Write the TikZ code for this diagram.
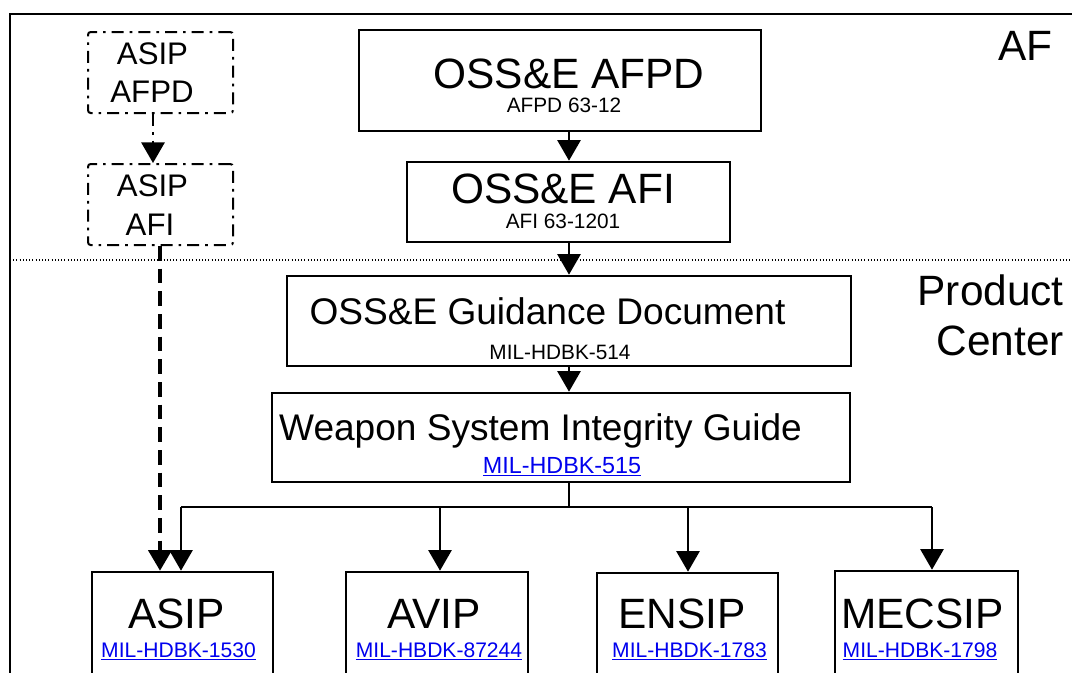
\documentclass[tikz,border=0pt]{standalone}
\usepackage{fontspec}
\setmainfont{Liberation Sans}
\usetikzlibrary{arrows.meta,fit}
\definecolor{linkblue}{RGB}{0,0,238}
\newcommand{\ftitle}{\fontsize{31.8}{38}\selectfont}
\newcommand{\fguide}{\fontsize{27.8}{33}\selectfont}
\newcommand{\fasip}{\fontsize{23.4}{28}\selectfont}
\newcommand{\fref}{\fontsize{15.6}{19}\selectfont}
\newcommand{\fweb}[2]{{\fontsize{#1}{19}\selectfont\color{linkblue}\underline{#2}}}
\tikzset{
  docbox/.style={draw, line width=2pt, inner sep=0pt},
  asipbox/.style={draw, line width=1.5pt, inner sep=0pt, rounded corners=2pt,
    dash pattern=on 9pt off 4.5pt on 2pt off 4.5pt},
  txt/.style={anchor=base, inner sep=0pt},
  tip/.style={-{Triangle[length=15.5pt,width=17.5pt]}},
  feed/.style={line width=1.5pt, tip},
  feeddash/.style={line width=2.6pt, dash pattern=on 11pt off 6pt, tip},
}
\begin{document}
\begin{tikzpicture}[x=0.75pt,y=-0.75pt]
\useasboundingbox (0,0) rectangle (1072,672);
\clip (0,0) rectangle (1072,672);
\draw[line width=2pt] (10,14) rectangle (1090,690);
\draw[line width=0.8pt, dash pattern=on 0.8pt off 1.6pt] (10,260) -- (1072,260);
% levels
\node[txt, anchor=base east] (af) at (1053,60) {\ftitle AF};
\node[txt, anchor=base east] (pc1) at (1064,305) {\ftitle Product};
\node[txt, anchor=base east] (pc2) at (1064,355) {\ftitle Center};
% columns of the connectors
\coordinate (trunk) at (569,0);
\coordinate (al) at (153,0);
\coordinate (dl) at (160,0);
% ASIP side
\node[asipbox, fit={(88,32) (233,113)}] (asipafpd) {};
\node[txt] (asipafpd1) at (152.5,64) {\fasip ASIP};
\node[txt] (asipafpd2) at (152,102) {\fasip AFPD};
\node[asipbox, fit={(88,164) (233,245)}] (asipafi) {};
\node[txt] (asipafi1) at (152.5,196) {\fasip ASIP};
\node[txt] (asipafi2) at (150,235) {\fasip AFI};
% OSS&E chain
\node[docbox, fit={(359,30) (761,131)}] (afpd) {};
\node[txt] (afpd1) at (569,88) {\ftitle OSS\&E AFPD};
\node[txt] (afpd2) at (564,112) {\fref AFPD 63-12};
\node[docbox, fit={(407,162) (730,242)}] (afi) {};
\node[txt] (afi1) at (563,203) {\ftitle OSS\&E AFI};
\node[txt] (afi2) at (563,228) {\fref AFI 63-1201};
\node[docbox, fit={(287,276) (851,366)}] (guide) {};
\node[txt] (guide1) at (547.5,324) {\fguide OSS\&E Guidance Document};
\node[txt] (guide2) at (560,359) {\fref MIL-HDBK-514};
\node[docbox, fit={(272,393) (850,482)}] (wsig) {};
\node[txt] (wsig1) at (540.5,440) {\fguide Weapon System Integrity Guide};
\node[txt] (wsig2) at (562,473) {\fweb{17.5}{MIL-HDBK-515}};
% programs
\node[docbox, fit={(92,572) (273,700)}] (asip) {};
\node[txt] (asip1) at (176.5,628) {\ftitle ASIP};
\node[txt] (asip2) at (178.5,657) {\fweb{15.8}{MIL-HDBK-1530}};
\node[docbox, fit={(346,572) (528,700)}] (avip) {};
\node[txt] (avip1) at (434,628) {\ftitle AVIP};
\node[txt] (avip2) at (439,657) {\fweb{15.8}{MIL-HBDK-87244}};
\node[docbox, fit={(597,573) (778,700)}] (ensip) {};
\node[txt] (ensip1) at (682,628) {\ftitle ENSIP};
\node[txt] (ensip2) at (689.5,657) {\fweb{15.8}{MIL-HBDK-1783}};
\node[docbox, fit={(835,571) (1018,700)}] (mecsip) {};
\node[txt] (mecsip1) at (922.5,628) {\ftitle MECSIP};
\node[txt] (mecsip2) at (920,657) {\fweb{15.8}{MIL-HDBK-1798}};
% connectors
\draw[feed] (afpd.south -| trunk) -- (afi.north -| trunk);
\draw[feed] (afi.south -| trunk) -- (guide.north -| trunk);
\draw[feed] (guide.south -| trunk) -- (wsig.north -| trunk);
\draw[line width=1.5pt, tip, dash pattern=on 9pt off 4.5pt on 2pt off 4.5pt] (asipafpd.south -| al) -- (asipafi.north -| al);
\coordinate (b1) at (181,507);
\coordinate (b2) at (440,507);
\coordinate (b3) at (688,507);
\coordinate (b4) at (932,507);
\draw[line width=1.5pt] (wsig.south -| trunk) -- (trunk |- b1);
\draw[line width=1.5pt] (b1) -- (b4);
\draw[feed] (b1) -- (b1 |- asip.north);
\draw[feed] (b2) -- (b2 |- avip.north);
\draw[feed] (b3) -- (b3 |- ensip.north);
\draw[feed] (b4) -- (b4 |- mecsip.north);
\draw[feeddash] (asipafi.south -| dl) -- (asip.north -| dl);
\end{tikzpicture}
\end{document}
